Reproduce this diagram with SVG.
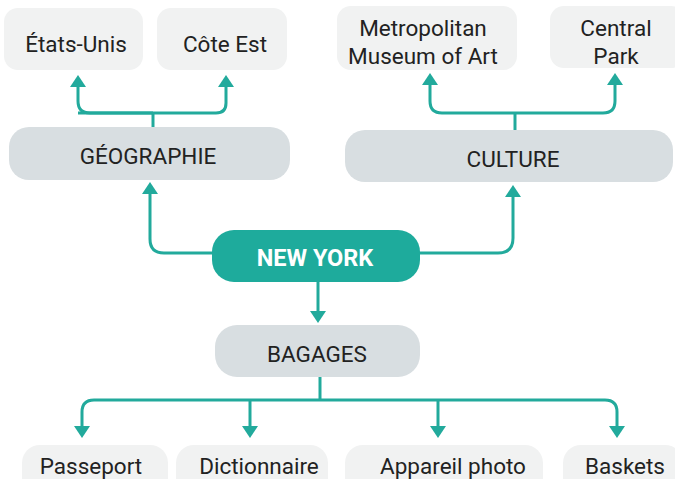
<svg xmlns="http://www.w3.org/2000/svg" width="675" height="479" viewBox="0 0 675 479">
<defs>
<marker id="ah" markerUnits="userSpaceOnUse" markerWidth="12" markerHeight="16" viewBox="0 0 12 16" refX="0" refY="8" orient="auto">
<path d="M0,0 L12,8 L0,16 Z" fill="#22aa9c"/>
</marker>
<style>
.leaf{fill:#f1f2f2}
.mid{fill:#d8dee1}
.hub{fill:#1eab9c}
text{font-family:Roboto,"Liberation Sans",sans-serif;font-size:22.5px;fill:#222;text-anchor:middle}
.hubt{fill:#fff;font-weight:bold;font-size:23.5px}
.c{fill:none;stroke:#22aa9c;stroke-width:3}
.a{marker-end:url(#ah)}
</style>
</defs>
<rect width="675" height="479" fill="#fff"/>
<g id="connectors">
<path class="c" d="M153,127 V113"/>
<path class="c a" d="M78,113 H216 Q226,113 226,103 V87"/>
<path class="c a" d="M153,113 H90 Q78,113 78,101 V87"/>
<path class="c" d="M515,130 V113"/>
<path class="c a" d="M515,113 H603 Q615,113 615,101 V85"/>
<path class="c a" d="M515,113 H442 Q430,113 430,101 V85"/>
<path class="c a" d="M212,253 H164 Q150,253 150,239 V194"/>
<path class="c a" d="M420,253 H498 Q513,253 513,238 V197"/>
<path class="c a" d="M318,282 V311"/>
<path class="c" d="M320,377 V400"/>
<path class="c a" d="M320,400 H94 Q82,400 82,412 V426"/>
<path class="c a" d="M320,400 H605 Q617,400 617,412 V426"/>
<path class="c a" d="M250,400 V426"/>
<path class="c a" d="M438,400 V426"/>
</g>
<g id="etats-unis"><rect class="leaf" x="4" y="8" width="139" height="62" rx="14"/><text x="76" y="52">États-Unis</text></g>
<g id="cote-est"><rect class="leaf" x="157" y="8" width="130" height="62" rx="14"/><text x="225" y="52">Côte Est</text></g>
<g id="metropolitan"><rect class="leaf" x="337" y="6" width="180" height="64" rx="14"/><text x="423" y="36">Metropolitan</text><text x="423" y="64">Museum of Art</text></g>
<g id="central-park"><rect class="leaf" x="550" y="6" width="135" height="62" rx="14"/><text x="616" y="36">Central</text><text x="616" y="64">Park</text></g>
<g id="geographie"><rect class="mid" x="9" y="127" width="281" height="53" rx="20"/><text x="148" y="164">GÉOGRAPHIE</text></g>
<g id="culture"><rect class="mid" x="345" y="130" width="328" height="52" rx="20"/><text x="513" y="167">CULTURE</text></g>
<g id="new-york"><rect class="hub" x="212" y="230" width="208" height="52" rx="22"/><text class="hubt" x="315" y="266">NEW YORK</text></g>
<g id="bagages"><rect class="mid" x="215" y="325" width="205" height="52" rx="22"/><text x="317" y="362">BAGAGES</text></g>
<g id="passeport"><rect class="leaf" x="22" y="445" width="146" height="50" rx="18"/><text x="91" y="474">Passeport</text></g>
<g id="dictionnaire"><rect class="leaf" x="176" y="445" width="152" height="50" rx="18"/><text x="259" y="474">Dictionnaire</text></g>
<g id="appareil-photo"><rect class="leaf" x="345" y="445" width="198" height="50" rx="18"/><text x="453" y="474">Appareil photo</text></g>
<g id="baskets"><rect class="leaf" x="563" y="445" width="120" height="50" rx="18"/><text x="625" y="474">Baskets</text></g>
</svg>
